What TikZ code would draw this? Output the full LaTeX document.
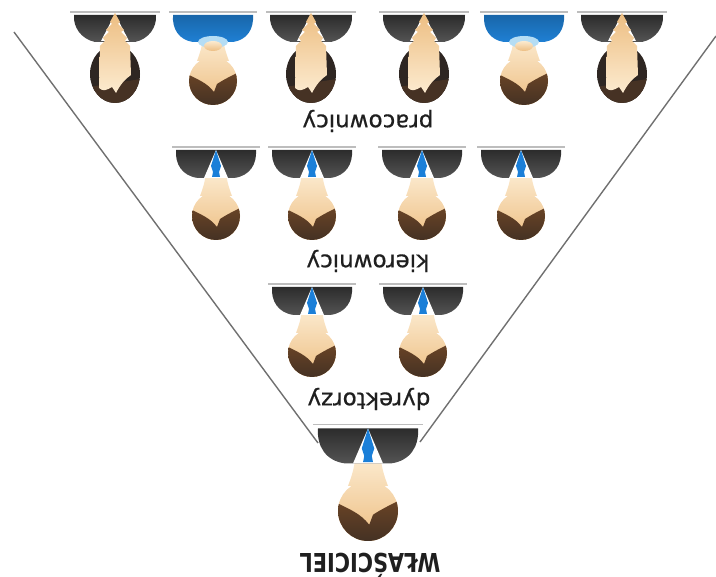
\documentclass[tikz,border=0pt]{standalone}
\usepackage{fontspec}
\usepackage{tikz}
\usetikzlibrary{calc}
\newfontfamily\labelfont[FakeBold=0.6]{DejaVu Sans}
\newfontfamily\titlefont{DejaVu Sans}

\definecolor{suit}{HTML}{2C2C2C}
\definecolor{suitlight}{HTML}{545454}
\definecolor{skin}{HTML}{EDBE82}
\definecolor{skinlight}{HTML}{FCEBD0}
\definecolor{hair}{HTML}{6A4426}
\definecolor{hairdark}{HTML}{2E2622}
\definecolor{shirtblue}{HTML}{1F80D4}
\definecolor{collarblue}{HTML}{B5DDF4}
\definecolor{tieblue}{HTML}{1B7FD8}
\definecolor{rim}{HTML}{BDBDBD}
\definecolor{edge}{HTML}{707070}

\tikzset{
  rimline/.style={line width=1.3pt, rim},
  level/.style={rotate=180, inner sep=0pt, text=black!88,
    font=\labelfont\fontsize{23}{23}\selectfont},
  % short hair head, drawn hanging down (hair at the bottom)
  head/.pic={
    \shade[top color=skinlight, bottom color=skin]
      (-10,24) -- (10,24) .. controls (11,34) and (13,40) .. (16,48)
      -- (-16,48) .. controls (-13,40) and (-11,34) .. (-10,24) -- cycle
      (0,68) circle (24);
    \begin{scope}
      \clip (0,68) circle (24);
      \shade[top color=hair, bottom color=hairdark!70!hair]
        (-26,61) .. controls (-14,67) and (-6,70) .. (1,79)
        -- (4,71) .. controls (10,67) and (18,63) .. (26,59)
        -- (26,96) -- (-26,96) -- cycle;
    \end{scope}
  },
  % suit with blue tie
  boss/.pic={
    \draw[rimline] (-44,-1) -- (44,-1);
    \pic[transform shape] {head};
    \shade[top color=suit, bottom color=suitlight]
      (-40,2) -- (40,2) .. controls (41,16) and (34,28) .. (18,30)
      -- (-18,30) .. controls (-34,28) and (-41,16) .. (-40,2) -- cycle;
    \fill[white] (0,2) -- (12,30) -- (-12,30) -- cycle;
    \fill[tieblue] (0,2) -- (5,18) -- (3,24) -- (4,29) -- (-4,29)
      -- (-3,24) -- (-5,18) -- cycle;
  },
  % blue shirt
  worker/.pic={
    \draw[rimline] (-44,-1) -- (44,-1);
    \pic[transform shape] {head};
    \shade[top color=shirtblue!80!black, bottom color=shirtblue]
      (-40,2) -- (40,2) .. controls (41,16) and (34,27) .. (20,29)
      -- (-20,29) .. controls (-34,27) and (-41,16) .. (-40,2) -- cycle;
    \fill[collarblue] (0,29) ellipse (15 and 6);
    \shade[top color=skinlight, bottom color=skin] (0,33) ellipse (9 and 5);
  },
  % long dark hair
  woman/.pic={
    \draw[rimline] (-45,-1) -- (45,-1);
    \fill[hairdark] (0,61) ellipse (25 and 29);
    \begin{scope}
      \clip (0,61) ellipse (25 and 29);
      \fill[hairdark!60!hair] (-26,74) -- (26,66) -- (26,92) -- (-26,92) -- cycle;
    \end{scope}
    \shade[top color=suit, bottom color=suitlight]
      (-41,2) -- (41,2) .. controls (42,14) and (34,26) .. (20,29)
      -- (-20,29) .. controls (-34,26) and (-42,14) .. (-41,2) -- cycle;
    \fill[white] (0,1) -- (14,28) -- (-14,28) -- cycle;
    \shade[top color=skin, bottom color=skinlight]
      (0,0) -- (5,9) -- (3,11) -- (9,17) -- (6,19) -- (12,25) -- (10,28)
      -- (15,33) -- (16,62) .. controls (10,66) and (5,72) .. (1,80)
      -- (-3,74) .. controls (-8,77) and (-12,79) .. (-16,75)
      -- (-15,33) -- (-10,28) -- (-12,25) -- (-6,19) -- (-9,17)
      -- (-3,11) -- (-5,9) -- cycle;
  }
}

\begin{document}
\begin{tikzpicture}[x=1pt,y=-1pt]
  \useasboundingbox (0,0) rectangle (716,577);

  % sides of the funnel
  \coordinate (lt) at (14,32);
  \coordinate (la) at (318,443);
  \coordinate (rt) at (716,36);
  \coordinate (ra) at (420,442);
  \draw[edge, line width=1.4pt] (lt) -- (la);
  \draw[edge, line width=1.4pt] (rt) -- (ra);

  % pracownicy
  \pic at (115,13) {woman};
  \pic at (213,13) {worker};
  \pic at (311,13) {woman};
  \pic at (424,13) {woman};
  \pic at (524,13) {worker};
  \pic at (622,13) {woman};
  \node[level] (pracownicy) at (368,121) {pracownicy};

  % kierownicy
  \pic at (216,148) {boss};
  \pic at (312,148) {boss};
  \pic at (422,148) {boss};
  \pic at (521,148) {boss};
  \node[level] (kierownicy) at (368,261) {kierownicy};

  % dyrektorzy
  \pic at (312,285) {boss};
  \pic at (423,285) {boss};
  \node[level] (dyrektorzy) at (369,399) {dyrektorzy};

  % owner, a bit larger
  \pic[scale=1.25] at (368,426) {boss};
  \node[level, xscale=0.8, font=\titlefont\bfseries\fontsize{26}{26}\selectfont]
    (wlasciciel) at (370,565) {WŁAŚCICIEL};
\end{tikzpicture}
\end{document}
